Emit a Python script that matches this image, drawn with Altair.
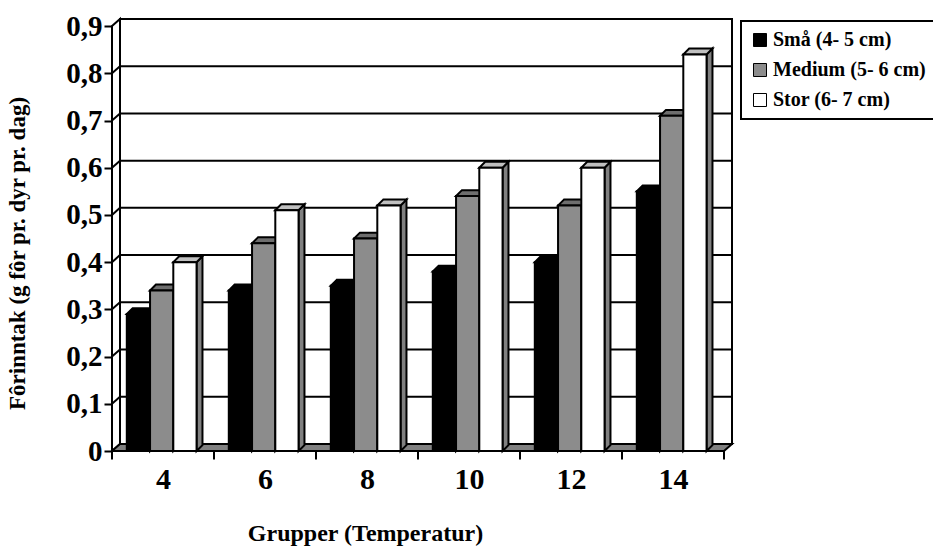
import json
import altair as alt
import pandas as pd

# ---------------- data ----------------
groups = ["4", "6", "8", "10", "12", "14"]
series = ["Små (4- 5 cm)", "Medium (5- 6 cm)", "Stor (6- 7 cm)"]
sma = [0.29, 0.34, 0.35, 0.38, 0.40, 0.55]
medium = [0.34, 0.44, 0.45, 0.54, 0.52, 0.71]
stor = [0.40, 0.51, 0.52, 0.60, 0.60, 0.84]
y_ticks = [0, 0.1, 0.2, 0.3, 0.4, 0.5, 0.6, 0.7, 0.8, 0.9]
grid_vals = [0.1, 0.2, 0.3, 0.4, 0.5, 0.6, 0.7, 0.8]

# ---------------- styling / 3D geometry (data units) ----------------
FONT = "Liberation Serif"
N = len(groups)
YMAX = 0.9
WALL_DX = 8 / 102
WALL_DY = 0.015
BAR_OFF = 0.145
BAR_W = 0.228
BAR_DX = 0.058
BAR_DY = 0.0125
TICK = 0.018
front_colors = ["#000000", "#8c8c8c", "#ffffff"]
top_colors = ["#000000", "#6e6e6e", "#c0c0c0"]
side_colors = ["#000000", "#5a5a5a", "#808080"]

vals = [sma, medium, stor]

fronts, tops, sides = [], [], []
for g in range(N):
    for s in range(len(series)):
        v = vals[s][g]
        xl = g + BAR_OFF + s * BAR_W
        xr = xl + BAR_W
        bid = f"{g}-{s}"
        fronts.append({"series": series[s], "xl": xl, "xr": xr, "y0": 0.0, "v": v})
        tops.append({"id": bid, "c": top_colors[s], "yv": v, "xa": xl, "xb": xr})
        tops.append({"id": bid, "c": top_colors[s], "yv": v + BAR_DY,
                     "xa": xl + BAR_DX, "xb": xr + BAR_DX})
        sides.append({"id": bid, "c": side_colors[s], "xv": xr, "ya": v, "yb": 0.0})
        sides.append({"id": bid, "c": side_colors[s], "xv": xr + BAR_DX,
                      "ya": v + BAR_DY, "yb": BAR_DY})

fronts = pd.DataFrame(fronts)
tops = pd.DataFrame(tops)
sides = pd.DataFrame(sides)

xs = alt.Scale(domain=[0, N + WALL_DX], nice=False, zero=False)
ys = alt.Scale(domain=[0, YMAX + WALL_DY], nice=False, zero=False)

label_expr_y = "datum.value == 0 ? '0' : replace(format(datum.value, '.1f'), '.', ',')"
label_expr_x = json.dumps(groups) + "[floor(datum.value)]"

y_axis = alt.Axis(values=y_ticks, labelExpr=label_expr_y, tickSize=8, tickWidth=2,
                  tickColor="black", domain=False, grid=False, labelFont=FONT,
                  labelFontSize=29, labelFontWeight="bold", labelColor="black",
                  labelPadding=2, title="Fôrinntak (g fôr pr. dyr pr. dag)",
                  titleFont=FONT, titleFontSize=23, titleFontWeight="bold",
                  titleColor="black", titleX=-95, titleY=234, titleAlign="center",
                  titleBaseline="middle")

x_axis = alt.Axis(values=[g + 0.5 for g in range(N)], labelExpr=label_expr_x,
                  ticks=False, domain=False, grid=False, labelFont=FONT,
                  labelFontSize=30, labelFontWeight="bold", labelColor="black",
                  labelPadding=13, title="Grupper (Temperatur)", titleFont=FONT,
                  titleFontSize=24, titleFontWeight="bold", titleColor="black",
                  titlePadding=27, titleX=253, titleAlign="center")


def X(field, **kw):
    return alt.X(field, scale=xs, axis=x_axis, **kw)


def Y(field, **kw):
    return alt.Y(field, scale=ys, axis=y_axis, **kw)


# back wall
back = alt.Chart(pd.DataFrame({"x": [WALL_DX], "x2": [N + WALL_DX], "y": [WALL_DY],
                               "y2": [YMAX + WALL_DY]})).mark_rect(
    fill="white", stroke="black", strokeWidth=2).encode(
    x=X("x:Q"), x2="x2", y=Y("y:Q"), y2="y2")

# back wall gridlines
grid_df = pd.DataFrame({"gv": [g + WALL_DY for g in grid_vals],
                        "x": WALL_DX, "x2": N + WALL_DX})
grid = alt.Chart(grid_df).mark_rule(color="black", strokeWidth=2).encode(
    x=X("x:Q"), x2="x2", y=Y("gv:Q"))

# left wall
lw_df = pd.DataFrame({"x": [0, WALL_DX], "y": [YMAX, YMAX + WALL_DY], "y2": [0, WALL_DY]})
left_wall = alt.Chart(lw_df).mark_area(fill="white", stroke="black", strokeWidth=2,
                                       orient="vertical").encode(
    x=X("x:Q"), y=Y("y:Q", stack=None), y2="y2")

diag_rows = []
for gv in grid_vals:
    diag_rows.append({"k": gv, "x": 0.0, "y": gv})
    diag_rows.append({"k": gv, "x": WALL_DX, "y": gv + WALL_DY})
diag = alt.Chart(pd.DataFrame(diag_rows)).mark_line(color="black", strokeWidth=2).encode(
    x=X("x:Q"), y=Y("y:Q"), detail="k:N")

# floor
floor_df = pd.DataFrame({"y": [0, WALL_DY], "x": [0, WALL_DX], "x2": [N, N + WALL_DX]})
floor = alt.Chart(floor_df).mark_area(fill="#808080", stroke="black", strokeWidth=2,
                                      orient="horizontal").encode(
    y=Y("y:Q"), x=X("x:Q", stack=None), x2="x2")

# front value-axis line
front_line = alt.Chart(pd.DataFrame({"x": [0], "y": [0], "y2": [YMAX]})).mark_rule(
    color="black", strokeWidth=2).encode(x=X("x:Q"), y=Y("y:Q"), y2="y2")

# bar sides, tops, fronts
side_l = alt.Chart(sides).mark_area(stroke="black", strokeWidth=2,
                                    orient="vertical").encode(
    x=X("xv:Q"), y=Y("ya:Q", stack=None), y2="yb",
    fill=alt.Fill("c:N", scale=None), detail="id:N")

top_l = alt.Chart(tops).mark_area(stroke="black", strokeWidth=2,
                                  orient="horizontal").encode(
    y=Y("yv:Q"), x=X("xa:Q", stack=None), x2="xb",
    fill=alt.Fill("c:N", scale=None), detail="id:N")

front_l = alt.Chart(fronts).mark_rect(stroke="black", strokeWidth=2).encode(
    x=X("xl:Q"), x2="xr", y=Y("y0:Q"), y2="v",
    color=alt.Color("series:N", scale=alt.Scale(domain=series, range=front_colors),
                    legend=alt.Legend(orient="none", legendX=629, legendY=2, title=None,
                                      symbolType="square", symbolSize=169,
                                      symbolStrokeColor="black", symbolStrokeWidth=1,
                                      labelFont=FONT, labelFontSize=20,
                                      labelFontWeight="bold", labelColor="black",
                                      rowPadding=10, padding=9, strokeColor="black",
                                      labelOffset=3)))

# category boundary ticks
tick_df = pd.DataFrame({"b": list(range(N + 1)), "y": 0.0, "y2": -TICK})
ticks = alt.Chart(tick_df).mark_rule(color="black", strokeWidth=2).encode(
    x=X("b:Q"), y=Y("y:Q"), y2="y2")

chart = alt.layer(back, grid, left_wall, diag, floor, front_line, side_l, top_l,
                  front_l, ticks).properties(
    width=620, height=432,
    autosize=alt.AutoSizeParams(type="none"),
    padding={"left": 112, "top": 19, "right": 201, "bottom": 100},
    background="white",
).configure_view(stroke=None).configure_legend(strokeWidth=2)

chart.save("out.html", embed_options={"renderer": "svg", "actions": False})
